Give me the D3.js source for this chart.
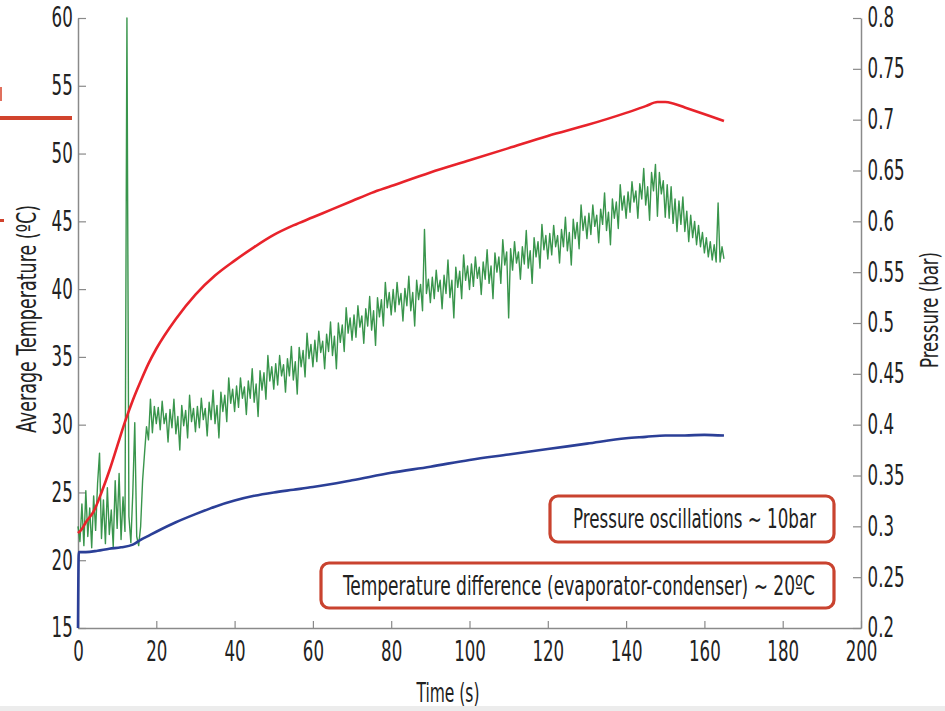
<!DOCTYPE html>
<html><head><meta charset="utf-8">
<script src="https://cdn.jsdelivr.net/npm/d3@7"></script>
<style>
html,body{margin:0;padding:0;background:#fff;}
svg{display:block;}
text{font-family:"Liberation Sans Narrow","DejaVu Sans Condensed","Arial Narrow",sans-serif;fill:#222;}
</style></head>
<body>
<svg id="chart" width="945" height="711"></svg>
<script>
// ---- data ----
const xTicks = [0,20,40,60,80,100,120,140,160,180,200];
const tempTicks = [15,20,25,30,35,40,45,50,55,60];
const pressTicks = [0.2,0.25,0.3,0.35,0.4,0.45,0.5,0.55,0.6,0.65,0.7,0.75,0.8];

const evapTime = [0,1,2,4,6,8,10,12,14,16,18,20,25,30,35,40,45,50,55,60,65,70,75,80,90,100,110,120,130,140,145,148,150,152,155,158,161,165];
const evapTemp = [22.0,22.3,22.8,23.6,25.0,26.6,28.4,30.2,31.8,33.2,34.5,35.6,37.8,39.6,41.0,42.1,43.1,44.0,44.7,45.3,45.9,46.5,47.1,47.6,48.6,49.5,50.4,51.3,52.1,53.0,53.5,53.8,53.8,53.7,53.4,53.1,52.8,52.4];

const condTime = [0,0.2,2,5,8,11,14,16,18,20,25,30,35,40,45,50,55,60,70,80,90,100,110,120,130,140,145,150,155,160,165];
const condTemp = [15,20.6,20.6,20.7,20.85,20.95,21.15,21.5,21.8,22.1,22.8,23.4,23.95,24.4,24.75,25.0,25.2,25.4,25.9,26.45,26.9,27.4,27.8,28.2,28.6,29.0,29.1,29.2,29.2,29.25,29.2];

const pressureSampleInterval = 0.5; // seconds between pressure samples
const pressure = [
0.300,0.285,0.322,0.281,0.335,0.290,0.318,0.279,0.330,0.296,
0.342,0.372,0.288,0.326,0.283,0.338,0.292,0.316,0.280,0.345,
0.298,0.352,0.287,0.329,0.295,0.800,0.310,0.284,0.333,0.402,
0.290,0.281,0.300,0.345,0.372,0.398,0.385,0.425,0.392,0.418,
0.401,0.417,0.395,0.423,0.401,0.411,0.383,0.415,0.397,0.425,
0.391,0.408,0.375,0.419,0.399,0.414,0.387,0.429,0.403,0.416,
0.393,0.418,0.397,0.426,0.405,0.416,0.389,0.422,0.405,0.434,
0.401,0.419,0.387,0.432,0.413,0.429,0.403,0.446,0.421,0.435,
0.413,0.438,0.417,0.446,0.426,0.437,0.410,0.443,0.426,0.455,
0.422,0.440,0.408,0.453,0.434,0.451,0.425,0.468,0.443,0.457,
0.435,0.460,0.439,0.468,0.448,0.459,0.432,0.465,0.448,0.477,
0.444,0.462,0.430,0.476,0.457,0.473,0.447,0.490,0.465,0.479,
0.457,0.483,0.462,0.492,0.471,0.482,0.455,0.489,0.472,0.501,
0.468,0.487,0.455,0.500,0.481,0.498,0.472,0.515,0.490,0.505,
0.483,0.508,0.486,0.517,0.496,0.507,0.480,0.514,0.497,0.526,
0.493,0.512,0.478,0.525,0.506,0.523,0.497,0.540,0.515,0.530,
0.508,0.533,0.511,0.540,0.518,0.529,0.502,0.534,0.517,0.546,
0.512,0.530,0.497,0.542,0.523,0.538,0.512,0.592,0.529,0.543,
0.520,0.545,0.524,0.552,0.531,0.542,0.514,0.547,0.529,0.562,
0.525,0.542,0.505,0.555,0.535,0.551,0.524,0.567,0.542,0.556,
0.533,0.558,0.536,0.565,0.544,0.555,0.528,0.560,0.543,0.572,
0.539,0.556,0.524,0.569,0.550,0.565,0.539,0.582,0.557,0.570,
0.505,0.573,0.552,0.580,0.559,0.570,0.543,0.575,0.558,0.591,
0.554,0.571,0.539,0.584,0.565,0.580,0.554,0.597,0.572,0.586,
0.563,0.588,0.567,0.596,0.575,0.586,0.559,0.592,0.575,0.604,
0.571,0.589,0.557,0.602,0.583,0.599,0.573,0.616,0.591,0.605,
0.583,0.608,0.587,0.616,0.595,0.606,0.579,0.612,0.597,0.628,
0.591,0.609,0.577,0.622,0.603,0.619,0.593,0.636,0.611,0.625,
0.603,0.629,0.609,0.639,0.619,0.630,0.603,0.637,0.622,0.652,
0.616,0.634,0.601,0.648,0.630,0.656,0.605,0.648,0.627,0.640,
0.604,0.636,0.603,0.634,0.598,0.622,0.590,0.620,0.597,0.624,
0.590,0.610,0.580,0.606,0.584,0.600,0.577,0.596,0.575,0.589,
0.569,0.584,0.565,0.580,0.562,0.577,0.560,0.618,0.560,0.575,
0.563];

// ---- layout ----
const svg = d3.select("#chart");
const x = d3.scaleLinear().domain([0,200]).range([78,861]);
const yT = d3.scaleLinear().domain([15,60]).range([628,18]);
const yP = d3.scaleLinear().domain([0.2,0.8]).range([628,18]);

svg.append("rect").attr("x",0).attr("y",706).attr("width",945).attr("height",5).attr("fill","#ececec");

// cropped decorations at far left
svg.append("rect").attr("x",0).attr("y",116).attr("width",72).attr("height",4).attr("fill","#d1432d");
svg.append("rect").attr("x",0).attr("y",87).attr("width",2).attr("height",14).attr("fill","#e0705d");
svg.append("rect").attr("x",0).attr("y",219).attr("width",4).attr("height",3).attr("fill","#d1432d");

const axisColor = "#8a8a8a";
const tickScale = "scale(0.66,1)";
function styleAxis(g){
  g.select(".domain").attr("stroke",axisColor).attr("stroke-width",1.5);
  g.selectAll(".tick line").attr("stroke",axisColor).attr("stroke-width",1.2);
  g.selectAll(".tick text").attr("fill","#222").style("font-size","28px")
    .attr("font-family",null).attr("transform",tickScale);
}

const gx = svg.append("g").attr("transform","translate(0,628)")
  .call(d3.axisBottom(x).tickValues(xTicks).tickSizeInner(-7).tickSizeOuter(0).tickPadding(13).tickFormat(d3.format("d")));
styleAxis(gx);

const gl = svg.append("g").attr("transform","translate(78,0)")
  .call(d3.axisLeft(yT).tickValues(tempTicks).tickSizeInner(-8).tickSizeOuter(0).tickPadding(8).tickFormat(d3.format("d")));
styleAxis(gl);

const gr = svg.append("g").attr("transform","translate(861,0)")
  .call(d3.axisRight(yP).tickValues(pressTicks).tickSizeInner(-8).tickSizeOuter(0).tickPadding(10).tickFormat(d => d3.format("")(+d.toFixed(2))));
styleAxis(gr);

// ---- series ----
const pressData = pressure.map((p,i)=>({t:i*pressureSampleInterval,p}));
svg.append("path").datum(pressData)
  .attr("fill","none").attr("stroke","#248a38").attr("stroke-width",1.4).attr("stroke-opacity",0.9)
  .attr("stroke-linejoin","round")
  .attr("d", d3.line().x(d=>x(d.t)).y(d=>yP(d.p)));

const condData = condTime.map((t,i)=>({t,v:condTemp[i]}));
svg.append("path").datum(condData)
  .attr("fill","none").attr("stroke","#2b3f97").attr("stroke-width",2.6)
  .attr("d", d3.line().x(d=>x(d.t)).y(d=>yT(d.v)).curve(d3.curveMonotoneX));

const evapData = evapTime.map((t,i)=>({t,v:evapTemp[i]}));
svg.append("path").datum(evapData)
  .attr("fill","none").attr("stroke","#e8232b").attr("stroke-width",2.6)
  .attr("d", d3.line().x(d=>x(d.t)).y(d=>yT(d.v)).curve(d3.curveMonotoneX));

// ---- axis titles ----
svg.append("text").attr("x",448).attr("y",702).attr("text-anchor","middle")
  .style("font-size","26px").attr("textLength",63).attr("lengthAdjust","spacingAndGlyphs").text("Time (s)");
svg.append("text").attr("transform","translate(36,319) rotate(-90)").attr("text-anchor","middle")
  .style("font-size","26px").attr("textLength",228).attr("lengthAdjust","spacingAndGlyphs").text("Average Temperature (ºC)");
svg.append("text").attr("transform","translate(938,310) rotate(-90)").attr("text-anchor","middle")
  .style("font-size","25px").attr("textLength",116).attr("lengthAdjust","spacingAndGlyphs").text("Pressure (bar)");

// ---- annotation boxes ----
const boxColor = "#c9432f";
svg.append("rect").attr("x",550).attr("y",496).attr("width",284).attr("height",46).attr("rx",8)
  .attr("fill","#fff").attr("stroke",boxColor).attr("stroke-width",3.2);
svg.append("text").attr("x",573).attr("y",528).style("font-size","26px")
  .attr("textLength",243).attr("lengthAdjust","spacingAndGlyphs").text("Pressure oscillations ~ 10bar");
svg.append("rect").attr("x",321).attr("y",563).attr("width",513).attr("height",45).attr("rx",8)
  .attr("fill","#fff").attr("stroke",boxColor).attr("stroke-width",3.2);
svg.append("text").attr("x",343).attr("y",595).style("font-size","26px")
  .attr("textLength",472).attr("lengthAdjust","spacingAndGlyphs").text("Temperature difference (evaporator-condenser) ~ 20ºC");
</script>
</body></html>
